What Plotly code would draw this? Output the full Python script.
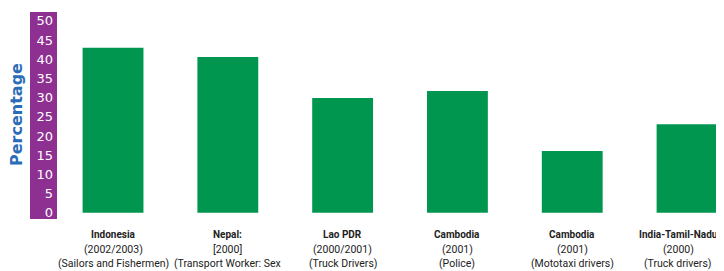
import plotly.graph_objects as go

countries = ["Indonesia", "Nepal:", "Lao PDR", "Cambodia", "Cambodia", "India-Tamil-Nadu"]
years = ["(2002/2003)", "[2000]", "(2000/2001)", "(2001)", "(2001)", "(2000)"]
groups = ["(Sailors and Fishermen)", "(Transport Worker: Sex", "(Truck Drivers)", "(Police)",
          "(Mototaxi drivers)", "(Truck drivers)"]
values = [43.0, 40.6, 29.9, 31.7, 16.1, 23.1]
y_ticks = [0, 5, 10, 15, 20, 25, 30, 35, 40, 45, 50]

positions = list(range(len(values)))

# page body has an 8px default margin; work in page pixels and subtract it
OFF = 8
W, H = 724 - OFF, 271 - OFF
L, T = 57 - OFF, 12 - OFF
plot_bottom = 219 - OFF
B = H - plot_bottom
R = 0
pw = W - L - R
ph = H - T - B


def py(page_y):
    return (H - B - (page_y - OFF)) / ph


def px(page_x):
    return ((page_x - OFF) - L) / pw


fig = go.Figure(go.Bar(
    x=positions, y=values, width=0.53,
    marker=dict(color="#009650", line=dict(width=0)),
))

lab_font = "Liberation Sans Narrow, Arial Narrow, Roboto, sans-serif"
annotations = []
last = positions[-1]
for p, c, yr, g in zip(positions, countries, years, groups):
    shift = -9 if p == last else 0  # keep the right-most label inside the window
    for txt, yc, sz in ((f"<b>{c}</b>", 235, 10), (yr, 249, 10.5), (g, 263, 10.5)):
        annotations.append(dict(
            text=txt, x=p, xref="x", yref="paper", y=py(yc), xshift=shift,
            xanchor="center", yanchor="middle", showarrow=False,
            font=dict(size=sz, color="#222", family=lab_font)))
annotations.append(dict(text="<b>Percentage</b>", xref="paper", yref="paper",
                        x=px(16), y=py(115),
                        textangle=-90, showarrow=False,
                        font=dict(size=16, color="#2b6cb8", family="Verdana, DejaVu Sans, sans-serif"),
                        xanchor="center", yanchor="middle"))

fig.update_layout(
    width=W, height=H,
    margin=dict(l=L, r=R, t=T, b=B, pad=0),
    plot_bgcolor="white", paper_bgcolor="white",
    showlegend=False,
    xaxis=dict(
        range=[-0.488, 5.322], showticklabels=False,
        showgrid=False, zeroline=False, showline=False, ticks="", automargin=False,
    ),
    yaxis=dict(
        range=[-1.6, 52.3], tickmode="array", tickvals=y_ticks,
        showgrid=False, zeroline=False, showline=False, ticks="", automargin=False,
        tickfont=dict(size=13, color="white", family="Verdana, DejaVu Sans, sans-serif"),
        ticklabelstandoff=3,
    ),
    shapes=[dict(type="rect", xref="paper", yref="paper",
                 x0=px(30), x1=0, y0=0, y1=1,
                 fillcolor="#8e3092", line=dict(width=0), layer="below")],
    annotations=annotations,
)

fig.write_html("out.html")
